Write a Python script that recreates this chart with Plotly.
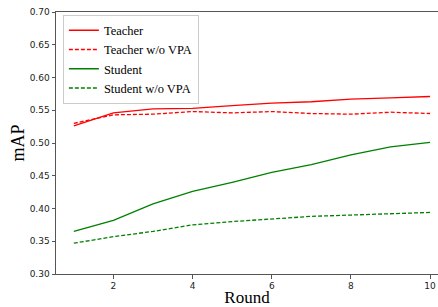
import plotly.graph_objects as go

rounds = [1, 2, 3, 4, 5, 6, 7, 8, 9, 10]
teacher = [0.526, 0.546, 0.552, 0.553, 0.557, 0.561, 0.563, 0.567, 0.569, 0.571]
teacher_wo = [0.530, 0.543, 0.544, 0.548, 0.546, 0.548, 0.545, 0.544, 0.547, 0.545]
student = [0.365, 0.382, 0.407, 0.426, 0.440, 0.455, 0.467, 0.482, 0.494, 0.501]
student_wo = [0.347, 0.357, 0.365, 0.375, 0.380, 0.384, 0.388, 0.390, 0.392, 0.394]

series = [
    ("Teacher", teacher, "#ff0000", "solid"),
    ("Teacher w/o VPA", teacher_wo, "#ff0000", "4px,2px"),
    ("Student", student, "#008000", "solid"),
    ("Student w/o VPA", student_wo, "#008000", "4px,2px"),
]

fig = go.Figure()
for name, vals, color, dash in series:
    fig.add_trace(go.Scatter(
        x=rounds, y=vals, name=name, mode="lines",
        line=dict(color=color, width=1.3, dash=dash),
    ))

fig.update_layout(
    width=438, height=307,
    margin=dict(l=56, r=0, t=12, b=33),
    paper_bgcolor="white", plot_bgcolor="white",
    showlegend=True,
    legend=dict(
        x=0.018, y=0.99, xanchor="left", yanchor="top",
        bgcolor="rgba(255,255,255,0.8)", bordercolor="#cccccc", borderwidth=1,
        font=dict(family="Liberation Serif", size=12.5, color="#000"),
        itemwidth=30, tracegroupgap=0,
    ),
    font=dict(family="DejaVu Sans", size=9, color="#222"),
)
fig.update_xaxes(
    range=[0.55, 10.2], tickvals=[2, 4, 6, 8, 10], automargin=False,
    showline=True, linecolor="#555", linewidth=1, mirror=True,
    ticks="outside", ticklen=3.5, tickcolor="#555",
    showgrid=False, zeroline=False,
    title=dict(text="Round", font=dict(family="Liberation Serif", size=17, color="#000"), standoff=1),
    tickfont=dict(family="DejaVu Sans", size=9, color="#222"),
)
fig.update_yaxes(
    range=[0.30, 0.70], tickvals=[0.30, 0.35, 0.40, 0.45, 0.50, 0.55, 0.60, 0.65, 0.70],
    tickformat=".2f", automargin=False,
    showline=True, linecolor="#555", linewidth=1,
    ticks="outside", ticklen=3.5, tickcolor="#555",
    showgrid=False, zeroline=False,
    title=dict(text="mAP", font=dict(family="Liberation Serif", size=18, color="#000"), standoff=0),
    tickfont=dict(family="DejaVu Sans", size=9, color="#222"),
)

fig.write_html("out.html", config={"displayModeBar": False},
               post_script="document.body.style.margin='0';document.body.style.overflow='hidden';")
